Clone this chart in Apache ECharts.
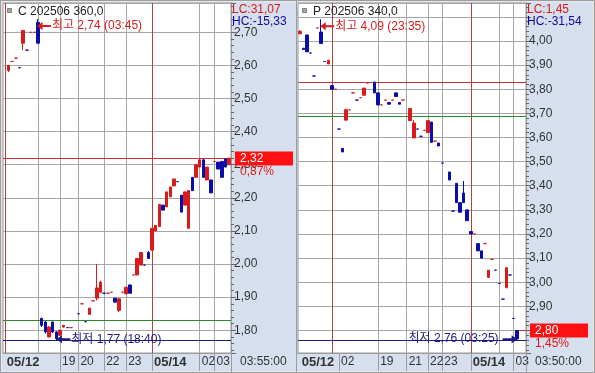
<!DOCTYPE html>
<html><head><meta charset="utf-8">
<script src="https://cdn.jsdelivr.net/npm/echarts@6/dist/echarts.min.js"></script>
<style>html,body{margin:0;padding:0;background:#fff}#c{width:595px;height:373px}</style>
</head><body><div id="c"></div>
<script>
// ---------------- DATA ----------------
// Left panel: C 202506 360,0  (slot index = bar)
const leftOpen  = [null,2.585,2.612,2.622,2.593,2.667,2.646,2.700,2.700,2.730,
  1.836,1.825,1.780,1.825,1.795,1.785,1.810,1.808,1.808,null,
  1.850,1.880,1.826,1.848,1.889,1.897,1.915,1.912,1.912,1.915,
  1.897,1.860,1.915,1.910,1.937,1.967,1.967,1.997,1.997,2.035,
  2.042,2.100,2.113,2.178,2.173,2.203,2.236,2.249,2.208,2.178,
  2.108,2.262,2.262,2.293,2.315,2.254,2.254,2.310,2.308,2.310,
  2.318,2.300];
const leftClose = [null,2.600,2.612,2.622,2.593,2.706,2.646,2.700,2.700,2.667,
  1.815,1.795,1.810,1.795,1.775,1.800,1.815,1.808,1.808,null,
  1.850,1.880,1.826,1.867,1.889,1.928,1.945,1.912,1.912,1.915,
  1.885,1.895,1.915,1.930,1.912,1.967,2.017,2.035,1.997,2.017,
  2.108,2.117,2.180,2.163,2.218,2.233,2.257,2.249,2.157,2.218,
  2.222,2.222,2.300,2.315,2.262,2.293,2.215,2.310,2.287,2.262,
  2.293,2.320];
const leftLow   = [null,2.580,2.612,2.622,2.593,2.646,2.646,2.700,2.700,2.667,
  1.810,1.790,1.778,1.792,1.770,1.783,1.808,1.808,1.808,null,
  1.850,1.880,1.826,1.848,1.889,1.890,1.912,1.912,1.912,1.915,
  1.885,1.855,1.915,1.910,1.912,1.967,1.967,1.997,1.997,2.017,
  2.042,2.100,2.113,2.163,2.173,2.203,2.236,2.249,2.157,2.178,
  2.108,2.222,2.262,2.293,2.262,2.254,2.215,2.310,2.287,2.262,
  2.293,2.300];
const leftHigh  = [null,2.600,2.612,2.622,2.593,2.706,2.646,2.700,2.700,2.740,
  1.838,1.828,1.812,1.826,1.797,1.802,1.816,1.808,1.808,null,
  1.850,1.880,1.826,1.867,1.889,2.000,1.950,1.912,1.912,1.915,
  1.897,1.897,1.915,1.930,1.937,1.967,2.017,2.035,1.997,2.040,
  2.108,2.117,2.180,2.178,2.218,2.233,2.257,2.249,2.208,2.218,
  2.222,2.262,2.300,2.315,2.315,2.293,2.254,2.310,2.308,2.310,
  2.318,2.320];
const leftAxisLabels = ['05/12','19','20','22','23','05/14','02','03'];
const leftAxisLabelSlots = [0,15,20,27,33,40,53,57];
const leftHourLineSlots = [0,9,15,20,27,33,40,53,57];
const leftDayLineSlots = [0,40];
const leftRefLevels = [2.32, 1.835, 1.77];   // red, green, navy
const leftInfo = {title:'C 202506 360,0', lc:'LC:31,07', hc:'HC:-15,33', pct:'0,87%', time:'03:55:00', maxTime:'03:45', minTime:'18:40'};

// Right panel: P 202506 340,0
const rightOpen  = [4.030,3.970,4.025,3.950,3.855,4.054,4.037,3.915,3.905,3.815,
  3.800,3.635,3.555,3.672,3.715,3.785,3.755,3.765,3.775,3.826,
  null,3.830,3.785,3.735,3.755,3.745,3.755,3.785,3.745,3.755,
  null,3.670,3.598,3.635,3.605,3.630,3.620,3.664,3.585,3.577,
  3.494,null,3.457,3.295,3.410,3.330,3.370,3.300,3.210,3.200,
  3.160,3.130,3.160,3.020,3.095,3.050,2.995,2.930,2.977,3.030,
  2.850,2.800,2.800,2.800];
const rightClose = [4.040,3.965,3.955,3.950,3.855,4.054,3.990,3.915,3.920,3.800,
  3.800,3.635,3.540,3.715,3.715,3.785,3.755,3.765,3.805,3.826,
  null,3.785,3.735,3.735,3.755,3.738,3.755,3.770,3.738,3.755,
  null,3.720,3.660,3.635,3.605,3.630,3.670,3.580,3.585,3.565,
  3.494,null,3.424,3.295,3.330,3.290,3.330,3.255,3.200,3.200,
  3.130,3.100,3.160,3.050,3.095,3.050,2.995,2.930,3.060,3.030,
  2.850,2.765,2.800,2.800];
const rightLow   = [4.030,3.965,3.955,3.950,3.855,4.054,3.990,3.915,3.905,3.800,
  3.800,3.635,3.540,3.672,3.715,3.785,3.755,3.765,3.775,3.826,
  null,3.785,3.735,3.735,3.755,3.738,3.755,3.770,3.738,3.755,
  null,3.670,3.598,3.635,3.605,3.630,3.620,3.580,3.585,3.565,
  3.494,null,3.424,3.295,3.330,3.290,3.330,3.255,3.200,3.200,
  3.130,3.100,3.160,3.020,3.095,3.050,2.995,2.930,2.977,3.030,
  2.850,2.760,2.800,2.800];
const rightHigh  = [4.045,3.970,4.025,3.950,3.855,4.054,4.090,3.915,3.920,3.815,
  3.800,3.635,3.555,3.720,3.715,3.785,3.755,3.765,3.805,3.826,
  null,3.830,3.785,3.735,3.755,3.745,3.755,3.785,3.745,3.755,
  null,3.720,3.672,3.635,3.605,3.630,3.670,3.664,3.585,3.577,
  3.494,null,3.457,3.295,3.410,3.330,3.420,3.300,3.210,3.200,
  3.160,3.130,3.160,3.050,3.095,3.050,2.995,2.930,3.060,3.030,
  2.850,2.800,2.800,2.800];
const rightAxisLabels = ['05/12','02','19','21','22','23','05/14','03'];
const rightAxisLabelSlots = [0,11,22,30,36,40,48,60];
const rightHourLineSlots = [9,22,30,36,40,48,56,60];
const rightDayLineSlots = [9,48];
const rightRefLevels = [3.835, 3.685, 2.76];
const rightInfo = {title:'P 202506 340,0', lc:'LC:1,45', hc:'HC:-31,54', pct:'1,45%', time:'03:50:00', maxTime:'23:35', minTime:'03:25'};

// ---------------- STYLE ----------------
const FONT = '"Liberation Sans", Arial, "Noto Sans CJK KR", sans-serif';
const RED = '#d81c1c', BLUE = '#0c0ca8', BAND = '#d5dfed', FRAME = '#9c9c9c', GRID = '#a6a6a6';
const DAYRED = '#b5403c', LVLCOL = ['#c83232', '#2e8a2e', '#1c1c80'];
const fmt = v => v.toFixed(2).replace('.', ',');

function candles(o, c, l, h) {
  return o.map((v, i) => v == null ? ['-', '-', '-', '-'] : [v, c[i], l[i], h[i]]);
}
function lastVal(a) { for (let i = a.length - 1; i >= 0; i--) if (a[i] != null) return a[i]; }
function argExt(a, isMax) {
  let bi = -1;
  a.forEach((v, i) => { if (v != null && (bi < 0 || (isMax ? v > a[bi] : v < a[bi]))) bi = i; });
  return bi;
}
const ARROW_L = 'path://M0,4L6,0L6,3L15,3L15,5L6,5L6,8Z';
const ARROW_R = 'path://M15,4L9,0L9,3L0,3L0,5L9,5L9,8Z';

function panelSeries(k, o, c, l, h, levels, info, minOnLeft) {
  const iMax = argExt(h, true), iMin = argExt(l, false);
  return {
    type: 'candlestick', xAxisIndex: k, yAxisIndex: k, barWidth: 3,
    data: candles(o, c, l, h),
    itemStyle: { color: RED, color0: BLUE, borderColor: RED, borderColor0: BLUE, borderWidth: 1 },
    markLine: {
      silent: true, symbol: 'none', z: 1, animation: false, label: { show: false },
      data: levels.map((v, j) => ({ yAxis: v, lineStyle: { color: LVLCOL[j], width: 1, type: 'solid' } }))
    },
    markPoint: {
      silent: true, animation: false,
      data: [
        { coord: [iMax, h[iMax]], symbol: ARROW_L, symbolSize: [14, 8], symbolOffset: [6, 7],
          itemStyle: { color: RED },
          label: { show: true, position: 'right', distance: 1, color: RED, fontSize: 12, fontFamily: FONT,
                   formatter: '최고 ' + fmt(h[iMax]) + ' (' + info.maxTime + ')' } },
        minOnLeft ?
        { coord: [iMin, l[iMin]], symbol: ARROW_L, symbolSize: [14, 8], symbolOffset: [7, -1],
          itemStyle: { color: '#1c1c80' },
          label: { show: true, position: 'right', distance: 1, color: '#1c1c80', fontSize: 12, fontFamily: FONT,
                   formatter: '최저 ' + fmt(l[iMin]) + ' (' + info.minTime + ')' } } :
        { coord: [iMin, l[iMin]], symbol: ARROW_R, symbolSize: [15, 8], symbolOffset: [-7, -1],
          itemStyle: { color: '#1c1c80' },
          label: { show: true, position: 'left', distance: 4, color: '#1c1c80', fontSize: 12, fontFamily: FONT,
                   formatter: '최저 ' + fmt(l[iMin]) + ' (' + info.minTime + ')' } }
      ]
    }
  };
}

function xAxisFor(k, n, labSlots, labTexts, hourSlots, daySlots) {
  return {
    type: 'category', gridIndex: k, boundaryGap: true,
    data: Array.from({ length: n }, (_, i) => String(i)),
    axisLine: { show: true, lineStyle: { color: FRAME } },
    axisTick: { show: true, alignWithLabel: true, length: 18, lineStyle: { color: FRAME },
                interval: i => labSlots.includes(i) && i !== 0 },
    axisLabel: { show: true, interval: i => labSlots.includes(i), align: 'left', margin: 3,
                 padding: [0, 0, 0, 2], color: '#333', fontSize: 12, fontFamily: FONT,
                 formatter: (v, i) => { const t = labTexts[labSlots.indexOf(i)] || ''; return t.includes('/') ? '{b|' + t + '}' : t; },
                 rich: { b: { fontWeight: 'bold', fontSize: 13, fontFamily: FONT, color: '#333' } } },
    splitLine: { show: true, alignWithLabel: true, interval: i => hourSlots.includes(i),
                 lineStyle: { color: hourSlots.map(s => daySlots.includes(s) ? DAYRED : GRID), width: 1, opacity: 1 } }
  };
}
function yAxisFor(k, min, max, hideAbove) {
  return {
    type: 'value', gridIndex: k, position: 'right', min: min, max: max,
    splitNumber: 10, minInterval: 0.1, maxInterval: 0.1, scale: true,
    axisLine: { show: true, lineStyle: { color: FRAME } },
    axisTick: { show: true, length: 5, lineStyle: { color: '#666' } },
    minorTick: { show: true, splitNumber: 5, length: 3, lineStyle: { color: '#666' } },
    splitLine: { show: true, lineStyle: { color: GRID, width: 1, opacity: 1 } },
    axisLabel: { margin: 3, color: '#333', fontSize: 12, fontFamily: FONT,
                 formatter: v => (Math.abs(v * 10 - Math.round(v * 10)) > 1e-6 || v > hideAbove) ? '' : fmt(v) }
  };
}

const chart = echarts.init(document.getElementById('c'), null, { renderer: 'canvas' });
const option = {
  animation: false,
  backgroundColor: BAND,
  grid: [
    { left: 3, top: 3, width: 228, height: 350, show: true, backgroundColor: '#fff', borderColor: FRAME, borderWidth: 1 },
    { left: 298, top: 3, width: 228, height: 350, show: true, backgroundColor: '#fff', borderColor: FRAME, borderWidth: 1 }
  ],
  xAxis: [ xAxisFor(0, leftOpen.length, leftAxisLabelSlots, leftAxisLabels, leftHourLineSlots, leftDayLineSlots),
           xAxisFor(1, rightOpen.length, rightAxisLabelSlots, rightAxisLabels, rightHourLineSlots, rightDayLineSlots) ],
  yAxis: [ yAxisFor(0, 1.7314, 2.7885, 2.75), yAxisFor(1, 2.7067, 4.1575, 4.05) ],
  series: [
    panelSeries(0, leftOpen, leftClose, leftLow, leftHigh, leftRefLevels, leftInfo, true),
    panelSeries(1, rightOpen, rightClose, rightLow, rightHigh, rightRefLevels, rightInfo, false)
  ]
};
chart.setOption(option);

// overlay texts (frame, titles, price tags) - tag positions from the y scale
const g = [];
function txt(x, y, t, fill, size, weight) {
  g.push({ type: 'text', x: x, y: y, silent: true, z: 50,
           style: { text: t, fill: fill, font: (weight || 'normal') + ' ' + (size || 12) + 'px ' + FONT, verticalAlign: 'middle', align: 'left' } });
}
g.push({ type: 'rect', shape: { x: 0.5, y: 0.5, width: 594, height: 372 }, style: { fill: 'none', stroke: FRAME, lineWidth: 1 }, silent: true, z: 40 });
g.push({ type: 'rect', shape: { x: 1.5, y: 1.5, width: 592, height: 370 }, style: { fill: 'none', stroke: '#e8e8e8', lineWidth: 1 }, silent: true, z: 40 });
g.push({ type: 'line', shape: { x1: 296.5, y1: 0, x2: 296.5, y2: 373 }, style: { stroke: FRAME, lineWidth: 1 }, silent: true, z: 40 });
[[231.5], [526.5]].forEach(([x]) => g.push({ type: 'line', shape: { x1: x, y1: 353, x2: x, y2: 372 }, style: { stroke: FRAME, lineWidth: 1 }, silent: true, z: 40 }));
[[0, 3, leftInfo, leftClose], [1, 298, rightInfo, rightClose]].forEach(([k, x0, info, closes]) => {
  g.push({ type: 'rect', shape: { x: x0 + 4.5, y: 8.5, width: 4, height: 4 }, style: { fill: '#a8a8a8', stroke: '#808080' }, silent: true, z: 50 });
  txt(x0 + 15, 12, info.title, '#222', 12);
  txt(x0 + 229, 10, info.lc, '#e01818', 12);
  txt(x0 + 229, 22, info.hc, '#0c0c9c', 12);
  txt(x0 + 237, 362, info.time, '#333', 12);
  const last = lastVal(closes);
  const y = chart.convertToPixel({ yAxisIndex: k }, last);
  g.push({ type: 'rect', shape: { x: x0 + 232, y: Math.round(y) - 6.5, width: 58, height: 14 }, style: { fill: '#ff1010' }, silent: true, z: 45 });
  txt(x0 + 237, Math.round(y) + 0.5, fmt(last), '#fff', 12);
  txt(x0 + 237, Math.round(y) + 14, info.pct, '#e01818', 12);
});
chart.setOption({ graphic: g });
</script></body></html>
